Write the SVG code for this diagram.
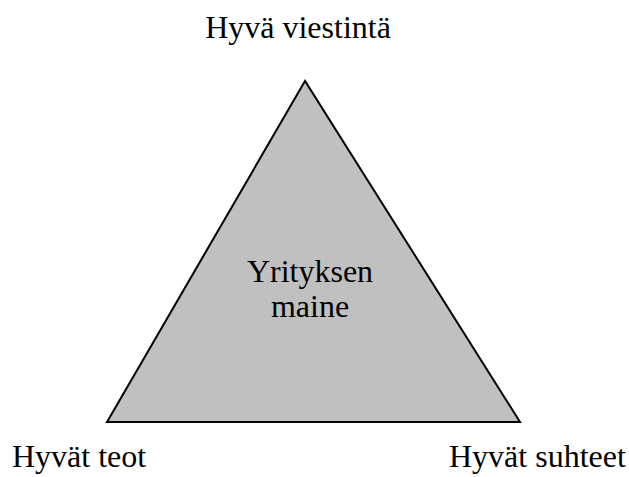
<svg xmlns="http://www.w3.org/2000/svg" width="629" height="477" viewBox="0 0 629 477">
  <style>
    text { font-family: 'Liberation Serif', 'Times New Roman', Times, 'DejaVu Serif', serif; font-size: 32px; fill: #000; }
    .tri { fill: #c0c0c0; stroke: #000; stroke-width: 2; stroke-linejoin: miter; }
  </style>
  <rect width="629" height="477" fill="#fff"/>
  <g id="reputation">
    <polygon class="tri" points="305,81 107,422 520,422"/>
    <text x="310" y="282" text-anchor="middle" font-family="Liberation Serif, serif">Yrityksen</text>
    <text x="310" y="317" text-anchor="middle" font-family="Liberation Serif, serif">maine</text>
  </g>
  <g id="communication">
    <text x="298" y="38" text-anchor="middle" font-family="Liberation Serif, serif">Hyvä viestintä</text>
  </g>
  <g id="deeds">
    <text x="12" y="467" font-family="Liberation Serif, serif">Hyvät teot</text>
  </g>
  <g id="relations">
    <text x="449" y="467" font-family="Liberation Serif, serif">Hyvät suhteet</text>
  </g>
</svg>
